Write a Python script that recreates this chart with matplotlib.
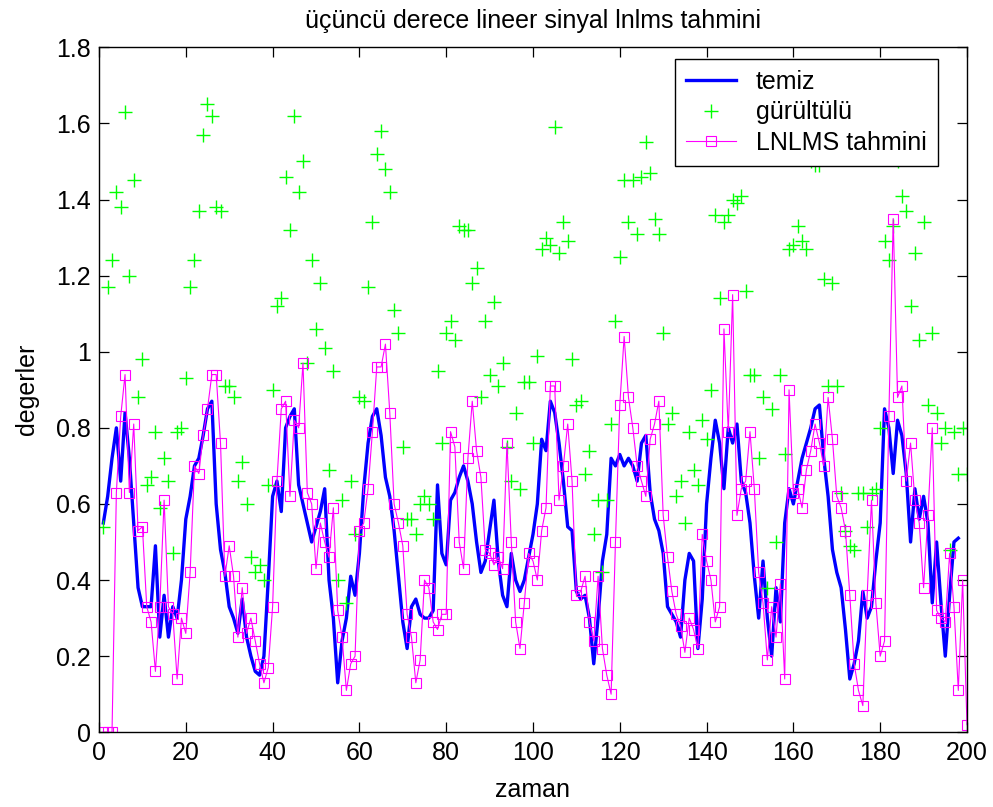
import numpy as np
import matplotlib
matplotlib.use("Agg")
import matplotlib.pyplot as plt

# temiz sinyal (x = 1..198)
temiz = [0.55, 0.62, 0.72, 0.80, 0.66, 0.84, 0.72, 0.55, 0.38, 0.33, 0.33, 0.33, 0.49, 0.25, 0.36, 0.25, 0.33, 0.30, 0.40, 0.56, 0.62, 0.70, 0.72, 0.78, 0.85, 0.87,
         0.60, 0.48, 0.42, 0.33, 0.30, 0.26, 0.35, 0.25, 0.20, 0.16, 0.15, 0.20, 0.40, 0.62, 0.66, 0.58, 0.80, 0.83, 0.85, 0.65, 0.60, 0.55, 0.50, 0.54,
         0.58, 0.64, 0.40, 0.30, 0.13, 0.24, 0.30, 0.41, 0.36, 0.47, 0.64, 0.76, 0.83, 0.85, 0.78, 0.67, 0.62, 0.53, 0.41, 0.29, 0.22, 0.33, 0.35, 0.31, 0.30,
         0.30, 0.32, 0.65, 0.47, 0.44, 0.61, 0.63, 0.67, 0.70, 0.66, 0.60, 0.50, 0.42, 0.45, 0.53, 0.61, 0.45, 0.36, 0.33, 0.47, 0.40, 0.37, 0.40, 0.46, 0.52,
         0.60, 0.77, 0.74, 0.87, 0.84, 0.76, 0.66, 0.54, 0.53, 0.37, 0.35, 0.36, 0.30, 0.18, 0.30, 0.45, 0.52, 0.72, 0.70, 0.73, 0.70, 0.72, 0.70, 0.66, 0.76,
         0.78, 0.63, 0.56, 0.53, 0.47, 0.33, 0.31, 0.29, 0.25, 0.40, 0.47, 0.45, 0.22, 0.35, 0.60, 0.72, 0.82, 0.76, 0.64, 0.80, 0.76, 0.81, 0.66, 0.63, 0.55,
         0.41, 0.30, 0.45, 0.30, 0.20, 0.38, 0.29, 0.55, 0.64, 0.60, 0.66, 0.72, 0.76, 0.80, 0.85, 0.86, 0.72, 0.62, 0.48, 0.42, 0.38, 0.27, 0.14, 0.18, 0.24, 0.37,
         0.30, 0.33, 0.45, 0.55, 0.85, 0.80, 0.68, 0.82, 0.78, 0.68, 0.50, 0.64, 0.56, 0.62, 0.55, 0.34, 0.50, 0.34, 0.20, 0.36, 0.50, 0.51]

# gurultulu sinyal (x = 1..200)
gurultulu = [0.54, 1.17, 1.24, 1.42, 1.38, 1.63, 1.20, 1.45, 0.88, 0.98, 0.65, 0.67, 0.79, 0.59, 0.72, 0.66, 0.47, 0.79, 0.80, 0.93, 1.17, 1.24, 1.37, 1.57, 1.65, 1.62,
             1.38, 1.37, 0.91, 0.91, 0.88, 0.66, 0.71, 0.60, 0.46, 0.42, 0.44, 0.40, 0.65, 0.90, 1.12, 1.14, 1.46, 1.32, 1.62, 1.42, 1.50, 0.97, 1.24, 1.06,
             1.18, 1.01, 0.69, 0.95, 0.40, 0.61, 0.34, 0.66, 0.52, 0.88, 0.87, 1.17, 1.34, 1.52, 1.58, 1.48, 1.42, 1.11, 1.05, 0.75, 0.56, 0.56, 0.52, 0.60, 0.62,
             0.60, 0.56, 0.95, 0.76, 1.05, 1.08, 1.03, 1.33, 1.32, 1.32, 1.18, 1.22, 0.88, 1.08, 0.94, 1.13, 0.91, 0.97, 0.75, 0.66, 0.84, 0.64, 0.92, 0.92, 0.76,
             0.99, 1.27, 1.30, 1.28, 1.59, 1.26, 1.34, 1.29, 0.98, 0.86, 0.87, 0.68, 0.74, 0.52, 0.61, 0.42, 0.61, 0.81, 1.08, 1.25, 1.45, 1.34, 1.45, 1.31, 1.46,
             1.55, 1.47, 1.35, 1.31, 1.05, 0.81, 0.84, 0.62, 0.66, 0.55, 0.79, 0.69, 0.65, 0.82, 0.77, 0.90, 1.36, 1.14, 1.34, 1.36, 1.40, 1.39, 1.41, 1.16, 0.94,
             0.94, 0.72, 0.88, 0.38, 0.85, 0.50, 0.94, 0.73, 1.27, 1.28, 1.33, 1.29, 1.27, 1.50, 1.49, 1.49, 1.19, 0.91, 1.18, 0.91, 0.63, 0.53, 0.49, 0.48, 0.63, 0.63,
             0.54, 0.63, 0.64, 0.80, 1.29, 1.24, 1.33, 1.50, 1.41, 1.37, 1.12, 1.26, 1.03, 1.34, 0.86, 1.05, 0.84, 0.76, 0.80, 0.48, 0.79, 0.68, 0.80, 0.68]

# LNLMS tahmini (x = 1..200)
lnlms = [0, 0, 0, 0.63, 0.83, 0.94, 0.63, 0.81, 0.53, 0.54, 0.33, 0.29, 0.16, 0.33, 0.61, 0.33, 0.31, 0.14, 0.30, 0.26, 0.42, 0.70, 0.68, 0.78, 0.85, 0.94,
         0.94, 0.76, 0.41, 0.49, 0.41, 0.25, 0.38, 0.26, 0.30, 0.24, 0.18, 0.13, 0.17, 0.33, 0.66, 0.85, 0.87, 0.62, 0.82, 0.80, 0.97, 0.63, 0.60, 0.43,
         0.55, 0.50, 0.46, 0.59, 0.32, 0.25, 0.11, 0.18, 0.20, 0.53, 0.55, 0.64, 0.79, 0.96, 0.96, 1.02, 0.84, 0.60, 0.55, 0.49, 0.31, 0.25, 0.13, 0.19, 0.40,
         0.38, 0.29, 0.27, 0.31, 0.31, 0.79, 0.75, 0.50, 0.43, 0.72, 0.87, 0.74, 0.67, 0.48, 0.47, 0.44, 0.46, 0.43, 0.76, 0.50, 0.29, 0.22, 0.34, 0.47, 0.45,
         0.40, 0.53, 0.59, 0.91, 0.91, 0.61, 0.70, 0.81, 0.66, 0.36, 0.37, 0.41, 0.29, 0.24, 0.41, 0.22, 0.15, 0.10, 0.50, 0.86, 1.04, 0.88, 0.80, 0.70, 0.66,
         0.62, 0.77, 0.81, 0.87, 0.57, 0.46, 0.37, 0.31, 0.28, 0.21, 0.30, 0.27, 0.22, 0.52, 0.45, 0.40, 0.29, 0.33, 1.06, 0.79, 1.15, 0.57, 0.64, 0.66, 0.79,
         0.64, 0.42, 0.34, 0.19, 0.33, 0.25, 0.39, 0.14, 0.90, 0.63, 0.64, 0.59, 0.69, 0.74, 0.81, 0.76, 0.70, 0.88, 0.77, 0.62, 0.59, 0.53, 0.36, 0.18, 0.11, 0.07,
         0.36, 0.61, 0.34, 0.20, 0.24, 0.83, 1.35, 0.88, 0.91, 0.66, 0.76, 0.61, 0.55, 0.38, 0.57, 0.80, 0.32, 0.30, 0.29, 0.47, 0.33, 0.11, 0.40, 0.02]

xticks = [0, 20, 40, 60, 80, 100, 120, 140, 160, 180, 200]
yticks = [0, 0.2, 0.4, 0.6, 0.8, 1.0, 1.2, 1.4, 1.6, 1.8]
ytick_labels = ["0", "0.2", "0.4", "0.6", "0.8", "1", "1.2", "1.4", "1.6", "1.8"]

plt.rcParams["font.family"] = ["Liberation Sans", "DejaVu Sans"]
FS = 18

fig = plt.figure(figsize=(9.93, 8.07), dpi=100)
ax = fig.add_axes([0.0997, 0.0926, 0.8741, 0.8488])

x_t = np.arange(1, len(temiz) + 1)
x_g = np.arange(1, len(gurultulu) + 1)
x_l = np.arange(1, len(lnlms) + 1)

ax.plot(x_t, temiz, color="#0000ff", lw=2.4, label="temiz")
ax.plot(x_g, gurultulu, ls="none", marker="+", ms=10, mew=1.0, color="#00ff00", label="gürültülü")
ax.plot(x_l, lnlms, color="#ff00ff", lw=0.8, marker="s", ms=7.5, mfc="none", mew=0.8, label="LNLMS tahmini")

ax.set_xlim(0, 200)
ax.set_ylim(0, 1.8)
ax.set_xticks(xticks)
ax.set_yticks(yticks)
ax.set_yticklabels(ytick_labels)
ax.tick_params(direction="in", top=True, right=True, length=7.5, width=0.9, labelsize=FS, pad=6)
for s in ax.spines.values():
    s.set_linewidth(1.0)

ax.set_title("üçüncü derece lineer sinyal lnlms tahmini", fontsize=FS, pad=14)
ax.set_xlabel("zaman", fontsize=FS, labelpad=10)
ax.set_ylabel("degerler", fontsize=FS, labelpad=12)

leg = ax.legend(loc="upper right", bbox_to_anchor=(0.9666, 0.983), borderaxespad=0,
                fontsize=FS, fancybox=False, edgecolor="black", framealpha=1,
                handlelength=2.0, handletextpad=0.8, labelspacing=0.25, borderpad=0.45)
leg.get_frame().set_linewidth(1.0)

fig.savefig("out.png", dpi=100)
